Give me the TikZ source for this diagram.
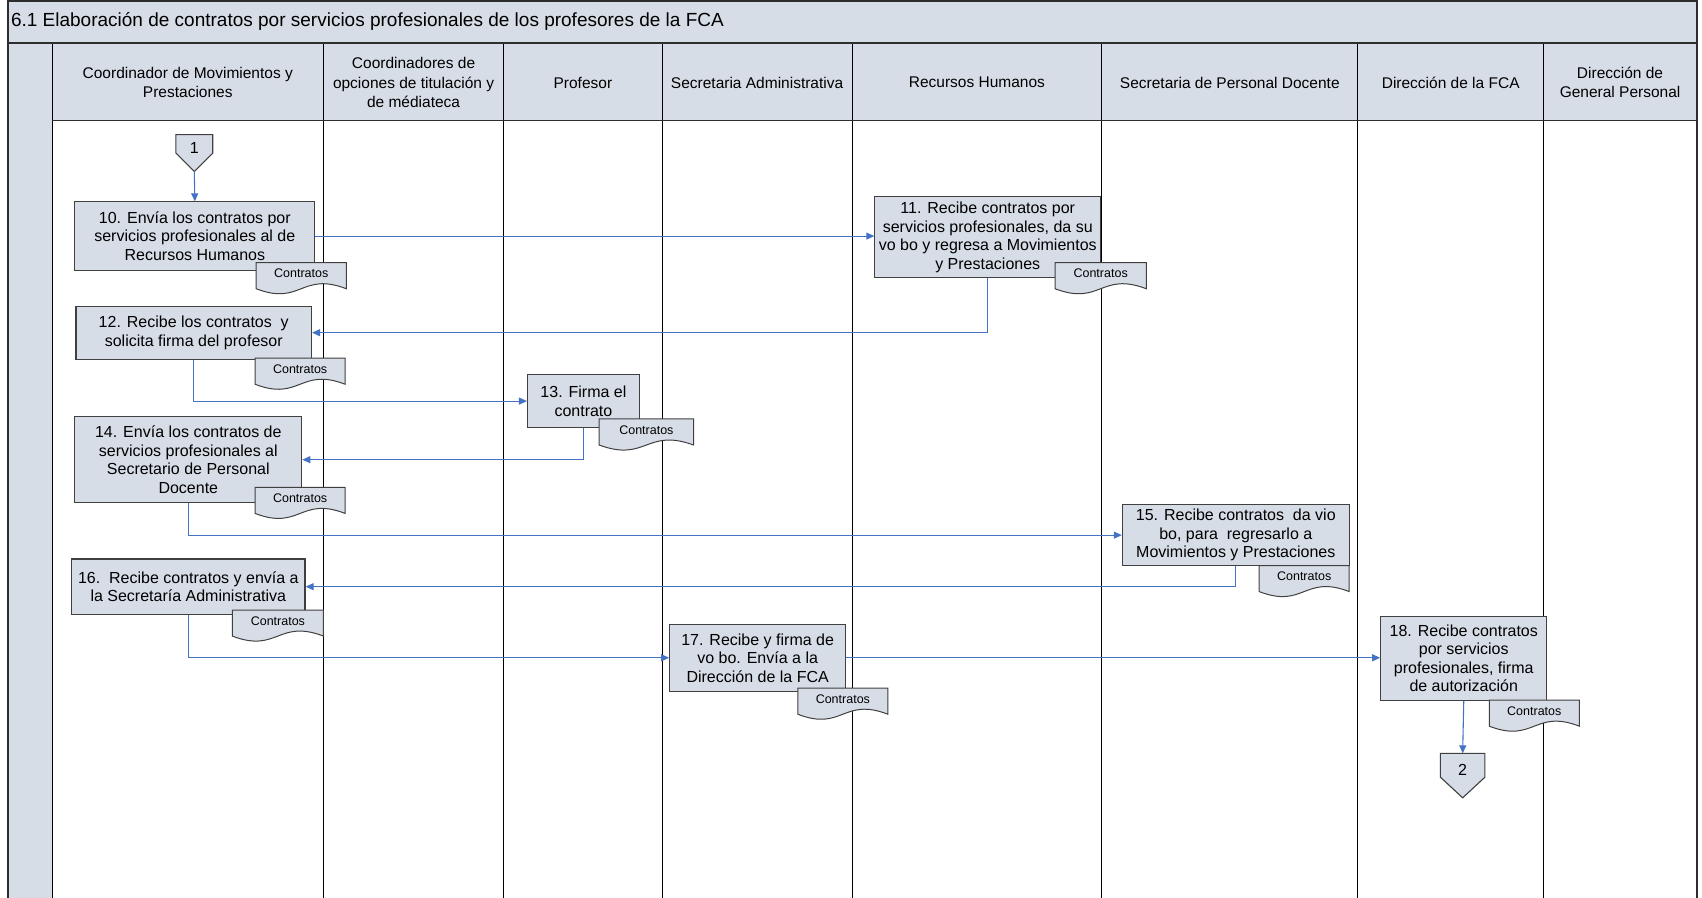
\documentclass[tikz,border=0pt]{standalone}
\usepackage{fontspec}
\setmainfont{Liberation Sans}
\usetikzlibrary{arrows.meta,calc}
\definecolor{boxfill}{RGB}{215,221,231}
\definecolor{flowblue}{RGB}{68,114,196}
\definecolor{framecol}{RGB}{45,45,45}
\tikzset{
  procbox/.style={draw=black!75, line width=1.1pt, fill=boxfill, align=center, inner sep=0pt,
    font=\fontsize{16}{18.5}\selectfont},
  sz/.style 2 args={minimum width=#1*1.0855pt, minimum height=#2*1.0855pt},
  hdr/.style={align=center, inner sep=0pt, font=\fontsize{15.5}{19.5}\selectfont},
  flow/.style={draw=flowblue, line width=1.1pt, -{Triangle[length=8pt,width=7pt]}},
  docst/.style={draw=black!75, line width=1pt, fill=boxfill},
  doctext/.style={inner sep=0pt, font=\fontsize{12.5}{14}\selectfont},
  connst/.style={draw=black!75, line width=1.1pt, fill=boxfill},
  lane/.style={draw=black, line width=1.1pt},
  framest/.style={draw=framecol, line width=2pt},
}
\newcommand{\docshp}[4]{%
  \draw[docst] (#2,#3) -- (#4,#3) -- (#4,#3+24)
    .. controls ({(#2+#4)/2},#3+24-16) and ({(#2+#4)/2},#3+24+16) .. (#2,#3+24) -- cycle;
  \node[doctext] (#1) at ({(#2+#4)/2},#3+10) {Contratos};
}
\begin{document}
\begin{tikzpicture}[x=1.0855pt, y=-1.0855pt]
\useasboundingbox (0,0) rectangle (1568,827);
% backgrounds
\fill[boxfill] (7,1) rectangle (1563,40);
\fill[boxfill] (7,40) rectangle (48,827);
\fill[boxfill] (48,40) rectangle (1563,111);
% lanes
\foreach \xx in {48,298,464,610,785,1015,1251,1422}
  \draw[lane] (\xx,40) -- (\xx,827);
\draw[framest, line width=1.6pt] (48,111) -- (1563,111);
\draw[framest] (7,40) -- (1563,40);
\draw[framest] (7,827) -- (7,1) -- (1563,1) -- (1563,827);
% title
\node[anchor=west, inner sep=0pt, font=\fontsize{19}{22}\selectfont] (title) at (10,20)
  {6.1 Elaboración de contratos por servicios profesionales de los profesores de la FCA};
% headers
\node[hdr] (h1) at (173,76) {Coordinador de Movimientos y\\Prestaciones};
\node[hdr] (h2) at (381,76) {Coordinadores de\\opciones de titulación y\\de médiateca};
\node[hdr] (h3) at (537,76) {Profesor};
\node[hdr] (h4) at (697.5,76) {Secretaria Administrativa};
\node[hdr] (h5) at (900,76) {Recursos Humanos};
\node[hdr] (h6) at (1133,76) {Secretaria de Personal Docente};
\node[hdr] (h7) at (1336.5,76) {Dirección de la FCA};
\node[hdr] (h8) at (1492.5,76) {Dirección de\\General Personal};
% connector 1
\draw[connst] (162,124) -- (196,124) -- (196,141) -- (179,158) -- (162,141) -- cycle;
\node[inner sep=0pt, font=\fontsize{16}{18}\selectfont] (c1) at (179,136) {1};
\coordinate (c1tip) at (179,158);
% connector 2
\draw[connst] (1327,694) -- (1368,694) -- (1368,716) -- (1347.5,735) -- (1327,716) -- cycle;
\node[inner sep=0pt, font=\fontsize{16}{18}\selectfont] (c2) at (1347.5,709) {2};
\coordinate (c2top) at (1347.5,694);
% process boxes
\node[procbox, sz={221}{63}] (b10) at (179.5,217.5) {10. Envía los contratos por\\servicios profesionales al de\\Recursos Humanos};
\node[procbox, sz={208}{75}] (b11) at (910,218.5) {11. Recibe contratos por\\servicios profesionales, da su\\vo bo y regresa a Movimientos\\y Prestaciones};
\node[procbox, sz={217}{49}] (b12) at (178.5,306.5) {12. Recibe los contratos\ \ y\\solicita firma del profesor};
\node[procbox, sz={103}{49}] (b13) at (537.5,369.5) {13. Firma el\\contrato};
\node[procbox, sz={209}{79}] (b14) at (173.5,423.5) {14. Envía los contratos de\\servicios profesionales al\\Secretario de Personal\\Docente};
\node[procbox, sz={209}{56}] (b15) at (1138.5,493) {15. Recibe contratos\ \ da vio\\bo, para\ \ regresarlo a\\Movimientos y Prestaciones};
\node[procbox, sz={215}{51}] (b16) at (173.5,540.5) {16.\ \ Recibe contratos y envía a\\la Secretaría Administrativa};
\node[procbox, sz={162}{62}] (b17) at (698,606) {17. Recibe y firma de\\vo bo. Envía a la\\Dirección de la FCA};
\node[procbox, sz={153}{77}] (b18) at (1348.5,606.5) {18. Recibe contratos\\por servicios\\profesionales, firma\\de autorización};
% documents
\docshp{d10}{236}{242}{319}
\docshp{d11}{972}{242}{1056}
\docshp{d12}{235}{330}{318}
\docshp{d13}{552}{386}{639}
\docshp{d14}{235}{449}{318}
\docshp{d15}{1160}{521}{1243}
\docshp{d16}{214}{562}{298}
\docshp{d17}{735}{634}{818}
\docshp{d18}{1372}{645}{1455}
% flows
\draw[flow] (c1tip) -- (b10.north);
\draw[flow] (b10.east) -- (b10.east -| b11.west);
\draw[flow] (b11.south) |- (b12.east);
\draw[flow] (b12.south) |- (b13.west);
\draw[flow] (b13.south) |- (b14.east);
\draw[flow] (b14.south) |- (b15.west);
\draw[flow] (b15.south) |- (b16.east);
\draw[flow] (b16.south) |- (b17.west);
\draw[flow] (b17.east) -- (b17.east -| b18.west);
\draw[flow] (b18.south) -- (c2top);
\end{tikzpicture}
\end{document}
